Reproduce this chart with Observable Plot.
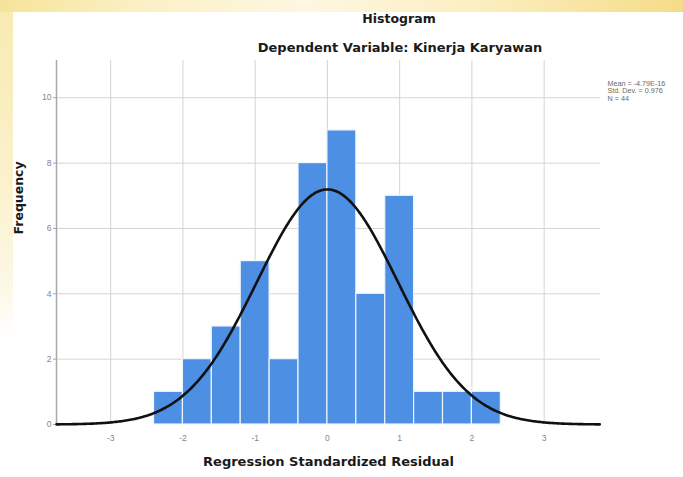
<!DOCTYPE html>
<html>
<head>
<meta charset="utf-8">
<script src="https://cdn.jsdelivr.net/npm/d3@7"></script>
<script src="https://cdn.jsdelivr.net/npm/@observablehq/plot@0.6"></script>
<style>
  html, body { margin: 0; padding: 0; }
  body { width: 683px; height: 477px; overflow: hidden; }
  #wrap {
    position: relative; width: 683px; height: 477px; overflow: hidden;
    background: linear-gradient(to bottom, #f8eab0 0px, #fbf1cc 180px, #fdf8e6 290px, #ffffff 340px);
  }
  #topband {
    position: absolute; left: 0; top: 0; width: 683px; height: 12px;
    background: linear-gradient(to right, #f6e39a 0%, #fbf0c4 20%, #fdf7e2 45%, #fbeec0 70%, #f5dc88 100%);
  }
  #panel { position: absolute; left: 13px; top: 12px; right: 0; bottom: 0; background: #fff; }
  #chart { position: absolute; left: 0; top: 0; }
  .ttl { position: absolute; transform: translateX(-50%); white-space: nowrap;
         font-family: "DejaVu Sans", "Liberation Sans", sans-serif; font-weight: bold; color: #1a1a1a; }
</style>
</head>
<body>
<div id="wrap">
  <div id="topband"></div>
  <div id="panel"></div>
  <div id="chart"></div>
  <div class="ttl" style="left:399px; top:11px; font-size:12.5px;">Histogram</div>
  <div class="ttl" style="left:400px; top:40px; font-size:13px;">Dependent Variable: Kinerja Karyawan</div>
</div>
<script>
// ---- data ----
const binStart = [-2.4, -2.0, -1.6, -1.2, -0.8, -0.4, 0.0, 0.4, 0.8, 1.2, 1.6, 2.0];
const binEnd   = [-2.0, -1.6, -1.2, -0.8, -0.4, 0.0, 0.4, 0.8, 1.2, 1.6, 2.0, 2.4];
const counts   = [1, 2, 3, 5, 2, 8, 9, 4, 7, 1, 1, 1];
const xTicks = [-3, -2, -1, 0, 1, 2, 3];
const yTicks = [0, 2, 4, 6, 8, 10];
const statsMean = -4.79e-16;
const statsSD = 0.976;
const statsN = 44;
const statsLines = ["Mean = -4.79E-16", "Std. Dev. = 0.976", "N = 44"];

const bins = binStart.map((s, i) => ({x1: s, x2: binEnd[i], count: counts[i]}));
const binWidth = binEnd[0] - binStart[0];
const xDomain = [-3.75, 3.78];

// fitted normal curve (from stated mean, SD, N)
const curve = d3.range(xDomain[0], xDomain[1] + 1e-9, 0.02).map(x => ({
  x,
  y: statsN * binWidth / (statsSD * Math.sqrt(2 * Math.PI)) *
     Math.exp(-0.5 * ((x - statsMean) / statsSD) ** 2)
}));

const labelFont = "DejaVu Sans, Liberation Sans, sans-serif";

const chart = Plot.plot({
  width: 683,
  height: 477,
  marginLeft: 56,
  marginRight: 83,
  marginTop: 60,
  marginBottom: 53,
  style: {background: "transparent", fontFamily: "Liberation Sans, Arial, sans-serif"},
  x: {domain: xDomain},
  y: {domain: [0, 11.14]},
  marks: [
    Plot.gridX(xTicks, {stroke: "#d4d4d4", strokeOpacity: 1, strokeWidth: 1}),
    Plot.gridY(yTicks.filter(d => d > 0), {stroke: "#d4d4d4", strokeOpacity: 1, strokeWidth: 1}),
    Plot.ruleX([xDomain[0]], {stroke: "#a8a8a8", strokeWidth: 1.5}),
    Plot.rectY(bins, {x1: "x1", x2: "x2", y: "count", fill: "#4c8fe3", stroke: "#eef4fd", strokeWidth: 1.2}),
    Plot.axisX(xTicks, {tickSize: 0, tickPadding: 10, fontSize: 8.5, fill: "#858585",
      tickFormat: d => String(d), label: null}),
    Plot.axisY(yTicks, {tickSize: 3, tickPadding: 2, fontSize: 8.5, fill: "#858585",
      stroke: "#a8a8a8", tickFormat: d => String(d), label: null}),
    Plot.line(curve, {x: "x", y: "y", stroke: "#111", strokeWidth: 2.6}),
    Plot.text(["Regression Standardized Residual"], {frameAnchor: "bottom", dy: 41,
      fontSize: 13, fontWeight: "bold", fill: "#1a1a1a", fontFamily: labelFont}),
    Plot.text(["Frequency"], {frameAnchor: "left", dx: -38, dy: -8, rotate: -90,
      fontSize: 12.5, fontWeight: "bold", fill: "#1a1a1a", fontFamily: labelFont}),
    Plot.text([statsLines.join("\n")], {frameAnchor: "top-right", dx: 7, dy: 20,
      textAnchor: "start", lineAnchor: "top", lineHeight: 1.05, fontSize: 7.2, fill: "#6a6a6a"})
  ]
});
document.getElementById("chart").appendChild(chart);
</script>
</body>
</html>
